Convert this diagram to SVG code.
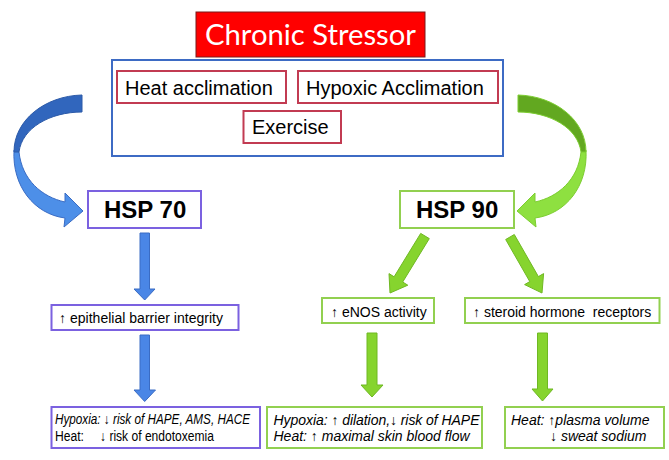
<svg xmlns="http://www.w3.org/2000/svg" width="669" height="460" viewBox="0 0 669 460">
<style>
text{font-family:"Liberation Sans",Arial,sans-serif;fill:#000}
.box{fill:#fff;stroke-width:2}
.red{stroke:#c23b52}
.pur{stroke:#7b61e0}
.grn{stroke:#92d050}
.t20{font-size:20px}
.t14{font-size:14px}
.t13{font-size:14px}
.it{font-style:italic}
.hsp{font-size:24px;font-weight:bold}
.barB{fill:#4a86e6;stroke:#3a6cc4;stroke-width:1}
.barG{fill:#86d42e;stroke:#6fb823;stroke-width:1}
</style>
<rect width="669" height="460" fill="#fff"/>
<g id="connectors">
<path d="M14 150 C12 186 34 214 65 218 L64 227 L83 211 L65 193 L65 202 C42 197 22 180 19 152 Z" fill="#4d8fe8" stroke="#3a6cc4" stroke-width="1"/>
<path d="M82 95 C45 96 14 120 14 152 L19 152 C22 128 50 112 82 112 Z" fill="#3166bd" stroke="#2c5aa8" stroke-width="1"/>
<path d="M586 150 C588 186 566 214 535 218 L536 227 L517 211 L535 193 L535 202 C558 197 578 180 581 152 Z" fill="#8ee040" stroke="#7ccd30" stroke-width="1"/>
<path d="M518 95 C555 96 586 120 586 152 L581 152 C578 128 550 112 518 112 Z" fill="#62a820" stroke="#7ccd30" stroke-width="1"/>
<polygon class="barB" points="140,233 149.5,233 149.5,289 155,289 144.7,300 134,289 140,289"/>
<polygon class="barB" points="140,335 149.5,335 149.5,390 155.5,390 144.7,401.5 134,390 140,390"/>
<polygon class="barG" points="420.7,233.4 429.3,238.6 402.7,282 407.8,285.2 390,293 389,273.6 394.1,276.8"/>
<polygon class="barG" points="505.7,239.5 514.3,234.5 538.4,276.6 543.6,273.6 542,293 524.6,284.6 529.8,281.6"/>
<polygon class="barG" points="367,333 377,333 377,385 383,385 372,397 361,385 367,385"/>
<polygon class="barG" points="537.5,333 547.5,333 547.5,389 553,389 542.5,401 532,389 537.5,389"/>
</g>
<g id="chronic-stressor">
<rect x="196" y="12" width="229" height="45" fill="#ff0000" stroke="#7a1a1a" stroke-width="1"/>
<text x="310.5" y="45" text-anchor="middle" style="font-family:Lato,'Open Sans',sans-serif;font-size:29px;fill:#fff" textLength="211" lengthAdjust="spacingAndGlyphs">Chronic Stressor</text>
</g>
<g id="stressor-group">
<rect x="112" y="60" width="391" height="96" fill="#fff" stroke="#3d6bc4" stroke-width="2"/>
</g>
<g id="heat-acclimation">
<rect class="box red" x="117" y="71" width="169" height="32"/>
<text class="t20" x="125" y="95">Heat acclimation</text>
</g>
<g id="hypoxic-acclimation">
<rect class="box red" x="298" y="71" width="200" height="32"/>
<text class="t20" x="306" y="95">Hypoxic Acclimation</text>
</g>
<g id="exercise">
<rect class="box red" x="243.5" y="111" width="97.5" height="32"/>
<text class="t20" x="252" y="134">Exercise</text>
</g>
<g id="hsp70">
<rect class="box pur" x="88" y="191" width="113" height="37"/>
<text class="hsp" x="104" y="218">HSP 70</text>
</g>
<g id="hsp90">
<rect class="box grn" x="400" y="191" width="114" height="37"/>
<text class="hsp" x="416" y="218">HSP 90</text>
</g>
<g id="epithelial">
<rect class="box pur" x="51.5" y="305" width="187" height="25"/>
<text class="t14" x="59" y="323" textLength="164">↑ epithelial barrier integrity</text>
</g>
<g id="enos">
<rect class="box grn" x="322" y="298" width="112" height="25"/>
<text class="t14" x="331" y="317">↑ eNOS activity</text>
</g>
<g id="steroid">
<rect class="box grn" x="465" y="298" width="194.5" height="25"/>
<text class="t14" x="473" y="317" style="white-space:pre" xml:space="preserve">↑ steroid hormone  receptors</text>
</g>
<g id="hsp70-outcome">
<rect class="box pur" x="51.5" y="407" width="208.5" height="41"/>
<text class="t13 it" x="55" y="424" textLength="195" lengthAdjust="spacingAndGlyphs">Hypoxia: ↓ risk of HAPE, AMS, HACE</text>
<text class="t13" x="55" y="441" textLength="29" lengthAdjust="spacingAndGlyphs">Heat:</text>
<text class="t13" x="100" y="441" textLength="114" lengthAdjust="spacingAndGlyphs">↓ risk of endotoxemia</text>
</g>
<g id="enos-outcome">
<rect class="box grn" x="267" y="407" width="215" height="41"/>
<text class="t14 it" x="273.5" y="424.5" textLength="206">Hypoxia: ↑ dilation,↓ risk of HAPE</text>
<text class="t14 it" x="273.5" y="441">Heat: ↑ maximal skin blood flow</text>
</g>
<g id="steroid-outcome">
<rect class="box grn" x="505" y="407" width="159" height="41"/>
<text class="t14 it" x="511" y="425">Heat: ↑plasma volume</text>
<text class="t14 it" x="550" y="441">↓ sweat sodium</text>
</g>
</svg>
